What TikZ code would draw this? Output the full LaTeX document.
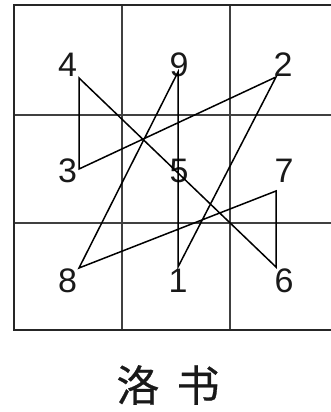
\documentclass[tikz,border=0pt]{standalone}
\usepackage{fontspec}
\setmainfont{Liberation Sans}
\newfontfamily\cjk{Noto Sans CJK SC}[FakeBold=0.6]
\begin{document}
\begin{tikzpicture}[x=1pt,y=-1pt,
  grid/.style={line width=1.6pt,draw=black!75},
  border/.style={line width=2.2pt,draw=black!85},
  path/.style={line width=1.5pt,draw=black,line join=miter},
  digit/.style={font=\fontsize{34}{34}\selectfont,inner sep=0pt,text=black!90},
  title/.style={font=\cjk\fontsize{43}{43}\selectfont,inner sep=0pt,text=black!90}]
\useasboundingbox (0,0) rectangle (331,412);
\begin{scope}
\clip (0,0) rectangle (331,412);
\draw[grid] (122,5) -- (122,330) (230,5) -- (230,330)
  (14,115) -- (338,115) (14,223) -- (338,223);
\draw[border] (14,5) rectangle (338,330);
\end{scope}
\node[digit] (n4) at (67.5,65) {4};
\node[digit] (n9) at (179,65) {9};
\node[digit] (n2) at (283,65) {2};
\node[digit] (n3) at (67.5,171) {3};
\node[digit] (n5) at (179,171) {5};
\node[digit] (n7) at (284,171) {7};
\node[digit] (n8) at (67.5,281) {8};
\node[digit] (n1) at (178,281) {1};
\node[digit] (n6) at (284,281) {6};
\coordinate (p1) at (178,267);
\coordinate (p2) at (276,77);
\coordinate (p3) at (79,169);
\coordinate (p4) at (79,78);
\coordinate (p6) at (276,267);
\coordinate (p7) at (276,191);
\coordinate (p8) at (79,268);
\coordinate (p9) at (178,72);
\draw[path] (p1) -- (p2) -- (p3) -- (p4) -- (p6) -- (p7) -- (p8) -- (p9) -- cycle;
\node[title] (t) at (168,385) {洛\hspace{0.4em}书};
\end{tikzpicture}
\end{document}
